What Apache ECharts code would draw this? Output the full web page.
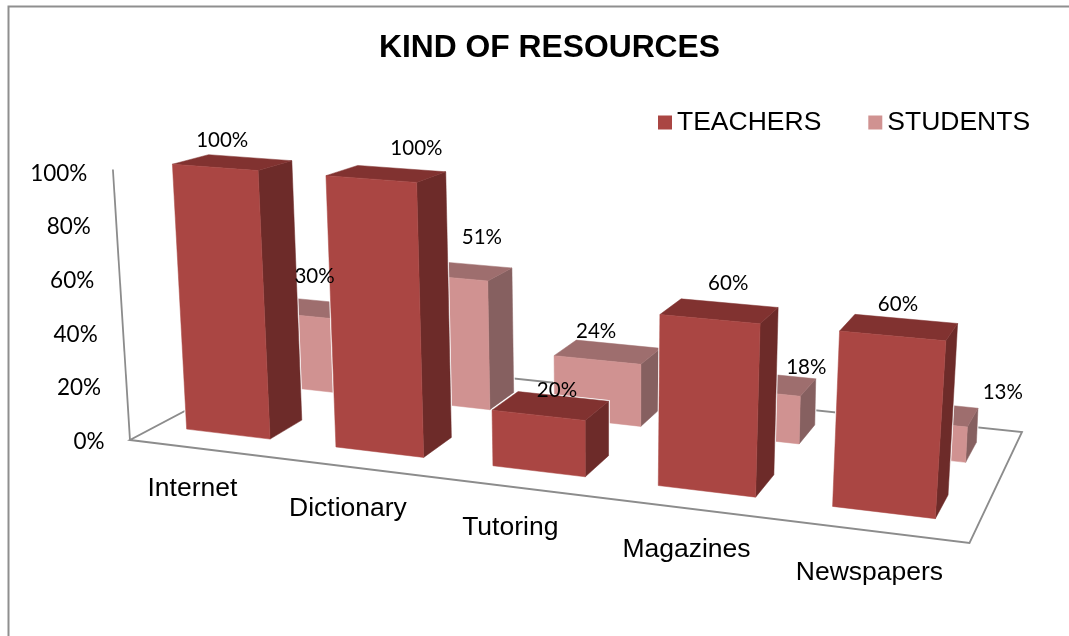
<!DOCTYPE html>
<html>
<head>
<meta charset="utf-8">
<style>html,body{margin:0;padding:0;background:#fff}#chart{width:1069px;height:636px}</style>
<script src="https://cdn.jsdelivr.net/npm/echarts@6/dist/echarts.min.js"></script>
</head>
<body>
<div id="chart"></div>
<script>
const titleText = 'KIND OF RESOURCES';
const categories = ['Internet', 'Dictionary', 'Tutoring', 'Magazines', 'Newspapers'];
const teachers = [100, 100, 20, 60, 60];
const students = [30, 51, 24, 18, 13];
const valueTicks = [0, 20, 40, 60, 80, 100];

// Viewing setup for the pseudo-3D box: floor and 100% plane as screen quads
// (front-left, front-right, back-right, back-left).
const floorQuad = [[130, 440], [969.5, 543], [1022, 432], [291, 355]];
const ceilingQuad = [[112.9, 169.5], [991.2, 236.4], [1034.2, 175.3], [283.9, 125.9]];
const rowCentre = { teachers: 0.25, students: 0.75 };
const rowHalfDepth = 0.1;
const barWidthRatio = 0.565;
const barShift = -0.003;

// Screen nudges of the text relative to the point each label hangs from.
const teacherLabelNudge = [[-12.7, -22.5], [27.6, -25], [3.7, -16], [6, -28], [-4, -23]];
const studentLabelNudge = [[-6, -32.5], [21, -33], [-14, -21], [41, -16], [75, -20]];
const categoryLabelNudge = [[-12, 40], [-11, 41], [-11.5, 39.5], [-7, 41], [-5.5, 41]];

function homography(q) {
  const [p0, p1, p2, p3] = q;
  const dx1 = p1[0] - p2[0], dx2 = p3[0] - p2[0], sx = p0[0] - p1[0] + p2[0] - p3[0];
  const dy1 = p1[1] - p2[1], dy2 = p3[1] - p2[1], sy = p0[1] - p1[1] + p2[1] - p3[1];
  const den = dx1 * dy2 - dx2 * dy1;
  const g = (sx * dy2 - dx2 * sy) / den, h = (dx1 * sy - sx * dy1) / den;
  const a = p1[0] - p0[0] + g * p1[0], b = p3[0] - p0[0] + h * p3[0];
  const d = p1[1] - p0[1] + g * p1[1], e = p3[1] - p0[1] + h * p3[1];
  return (u, v) => {
    const w = g * u + h * v + 1;
    return [(a * u + b * v + p0[0]) / w, (d * u + e * v + p0[1]) / w];
  };
}
const floorMap = homography(floorQuad);
const ceilingMap = homography(ceilingQuad);

function project(u, v, t) {
  const f = floorMap(u, v), c = ceilingMap(u, v);
  return [f[0] + (c[0] - f[0]) * t, f[1] + (c[1] - f[1]) * t];
}

// Grid-relative position of a (category, value) pair, from the hidden axes.
function toUnit(params, api, cat, val) {
  const p = api.coord([cat, val]);
  const cs = params.coordSys;
  return { u: (p[0] - cs.x) / cs.width, t: (cs.y + cs.height - p[1]) / cs.height };
}

function barRenderer(row, faces) {
  return function (params, api) {
    const cs = params.coordSys;
    const { u, t } = toUnit(params, api, api.value(0), api.value(1));
    const hw = api.size([1, 0])[0] / cs.width * barWidthRatio / 2;
    const v0 = row - rowHalfDepth, v1 = row + rowHalfDepth;
    const l = u + barShift - hw, r = u + barShift + hw;
    const front = [project(l, v0, 0), project(r, v0, 0), project(r, v0, t), project(l, v0, t)];
    const side = [project(r, v0, 0), project(r, v1, 0), project(r, v1, t), project(r, v0, t)];
    const top = [project(l, v0, t), project(r, v0, t), project(r, v1, t), project(l, v1, t)];
    const poly = (points, fill, stroke, lw) => ({
      type: 'polygon', shape: { points },
      style: { fill, stroke, lineWidth: lw, lineJoin: 'round' }
    });
    return {
      type: 'group',
      children: [
        poly(front, '#fff', '#fff', 2.5), poly(side, '#fff', '#fff', 2.5), poly(top, '#fff', '#fff', 2.5),
        poly(side, faces.side, faces.side, 0.5),
        poly(top, faces.top, faces.top, 0.5),
        poly(front, faces.front, faces.front, 0.5)
      ]
    };
  };
}

const teacherFaces = { front: '#AA4643', top: '#813230', side: '#6D2B29' };
const studentFaces = { front: '#D09291', top: '#9E6E6E', side: '#866060' };

const option = {
  backgroundColor: '#fff',
  animation: false,
  title: {
    text: titleText, left: 549.5, top: 32, textAlign: 'center', padding: 0,
    textStyle: { fontFamily: 'Liberation Sans', fontWeight: 'bold', fontSize: 31.8, color: '#000' }
  },
  legend: {
    data: ['TEACHERS', 'STUDENTS'], left: 658, top: 109, padding: 0,
    itemWidth: 14, itemHeight: 14, itemGap: 47, icon: 'rect',
    textStyle: { fontFamily: 'Liberation Sans', fontSize: 26.5, color: '#000' }
  },
  grid: { left: 100, right: 100, top: 170, bottom: 196 },
  xAxis: { type: 'category', data: categories, show: false },
  yAxis: { type: 'value', min: 0, max: 100, interval: 20, show: false },
  graphic: [{
    type: 'polyline', silent: true,
    shape: { points: [[8.5, 636], [8.5, 6.5], [1069, 6.5]] },
    style: { stroke: '#8f8f8f', lineWidth: 2, fill: null }
  }],
  series: [
    {
      // Floor outline, upright axis line, tick labels and category names.
      type: 'custom', name: 'box', coordinateSystem: 'cartesian2d', z: 1, silent: true,
      data: valueTicks.map(v => [0, v]),
      renderItem(params, api) {
        const children = [];
        const val = api.value(1);
        const { t } = toUnit(params, api, 0, val);
        const p = project(0, 0, t);
        children.push({
          type: 'text',
          style: {
            text: val + '%', x: p[0] - 25.5, y: p[1] + 1.5 + 2.5 * t, align: 'right', verticalAlign: 'middle',
            font: '22.5px Lato', fill: '#000'
          }
        });
        if (params.dataIndex === 0) {
          const line = pts => ({
            type: 'polyline', shape: { points: pts },
            style: { stroke: '#8c8c8c', lineWidth: 1.8, fill: null }
          });
          children.push(line([project(0, 0, 1), project(0, 0, 0)]));
          children.push({
            type: 'polygon', shape: { points: floorQuad },
            style: { stroke: '#8c8c8c', lineWidth: 1.8, fill: null }
          });
          categories.forEach((name, i) => {
            const q = floorMap(toUnit(params, api, i, 0).u, 0);
            const n = categoryLabelNudge[i];
            children.push({
              type: 'text',
              style: {
                text: name, x: q[0] + n[0], y: q[1] + n[1], align: 'center', verticalAlign: 'middle',
                font: '26.5px "Liberation Sans"', fill: '#000'
              }
            });
          });
        }
        return { type: 'group', children };
      }
    },
    {
      type: 'custom', name: 'STUDENTS', coordinateSystem: 'cartesian2d', z: 2,
      itemStyle: { color: studentFaces.front },
      data: students.map((v, i) => [i, v]),
      renderItem: barRenderer(rowCentre.students, studentFaces)
    },
    {
      type: 'custom', name: 'TEACHERS', coordinateSystem: 'cartesian2d', z: 3,
      itemStyle: { color: teacherFaces.front },
      data: teachers.map((v, i) => [i, v]),
      renderItem: barRenderer(rowCentre.teachers, teacherFaces)
    },
    {
      // Value labels sit above every bar.
      type: 'custom', name: 'values', coordinateSystem: 'cartesian2d', z: 4, silent: true,
      data: [
        ...teachers.map((v, i) => [i, v, 0]),
        ...students.map((v, i) => [i, v, 1])
      ],
      renderItem(params, api) {
        const cat = api.value(0), val = api.value(1), isStudent = api.value(2) === 1;
        const { u, t } = toUnit(params, api, cat, val);
        const row = isStudent ? rowCentre.students : rowCentre.teachers;
        const n = (isStudent ? studentLabelNudge : teacherLabelNudge)[cat];
        const p = project(u, row, t);
        return {
          type: 'text',
          style: {
            text: val + '%', x: p[0] + n[0], y: p[1] + n[1], align: 'center', verticalAlign: 'middle',
            font: '20.5px Lato', fill: '#000'
          }
        };
      }
    }
  ]
};

echarts.init(document.getElementById('chart'), null, { renderer: 'canvas' }).setOption(option);
</script>
</body>
</html>
